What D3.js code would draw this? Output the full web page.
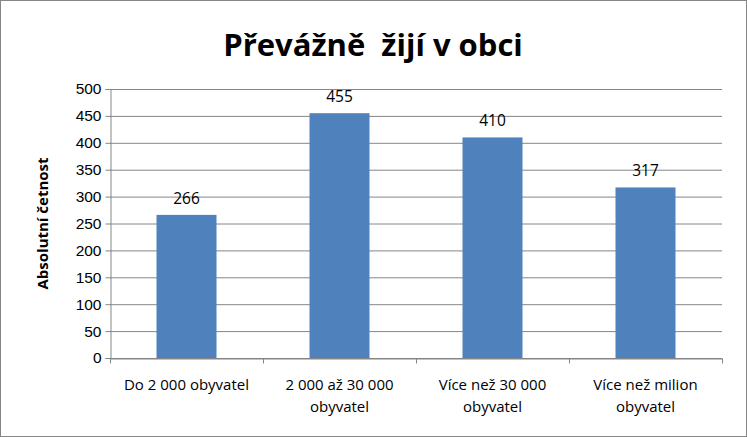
<!DOCTYPE html>
<html><head><meta charset="utf-8">
<script src="https://cdn.jsdelivr.net/npm/d3@7"></script>
<style>body{margin:0;background:#fff}svg{font-family:"Open Sans","Liberation Sans",sans-serif}</style>
</head><body><div id="chart"></div>
<script>
const categories = [["Do 2 000 obyvatel"], ["2 000 až 30 000", "obyvatel"], ["Více než 30 000", "obyvatel"], ["Více než milion", "obyvatel"]];
const values = [266, 455, 410, 317];
const yTicks = [0, 50, 100, 150, 200, 250, 300, 350, 400, 450, 500];

const width = 747, height = 437;
const margin = { top: 89, right: 25, bottom: 79, left: 110 };

const svg = d3.select('#chart').append('svg').attr('width', width).attr('height', height);
svg.append('rect').attr('x', 0.5).attr('y', 0.5).attr('width', width - 1).attr('height', height - 1)
    .attr('fill', '#fff').attr('stroke', '#868686');

const x = d3.scaleBand().domain(d3.range(values.length)).range([margin.left, width - margin.right]).paddingInner(0).paddingOuter(0);
const y = d3.scaleLinear().domain([0, 500]).range([height - margin.bottom, margin.top]);

// gridlines
svg.append('g').selectAll('line').data(yTicks).join('line')
    .attr('x1', margin.left).attr('x2', width - margin.right)
    .attr('y1', d => y(d) + 0.5).attr('y2', d => y(d) + 0.5)
    .attr('stroke', '#868686');

// bars
const bw = 60;
svg.append('g').selectAll('rect').data(values).join('rect')
    .attr('x', (d, i) => x(i) + x.bandwidth() / 2 - bw / 2)
    .attr('y', d => y(d)).attr('width', bw).attr('height', d => y(0) - y(d))
    .attr('fill', '#4f81bd');

svg.append('g').selectAll('text').data(values).join('text')
    .attr('x', (d, i) => x(i) + x.bandwidth() / 2).attr('y', d => y(d) - 11)
    .attr('text-anchor', 'middle').style('font-size', '15.5px').text(d => d);

// y axis
const yAxis = svg.append('g').attr('transform', `translate(${margin.left + 0.5},0)`)
    .call(d3.axisLeft(y).tickValues(yTicks).tickSize(5).tickPadding(4));
yAxis.selectAll('text').style('font-size', '15.5px').attr('fill', '#000').style('font-family', 'inherit');
yAxis.selectAll('line,path').attr('stroke', '#868686');

// x axis
const xAxis = svg.append('g').attr('transform', `translate(0,${y(0) + 0.5})`)
    .call(d3.axisBottom(x).tickSize(0).tickFormat(''));
xAxis.select('path').attr('stroke', '#868686');
xAxis.selectAll('.sep').data(d3.range(values.length + 1)).join('line').attr('class', 'sep')
    .attr('x1', i => margin.left + i * x.bandwidth() + 0.5).attr('x2', i => margin.left + i * x.bandwidth() + 0.5)
    .attr('y1', 0).attr('y2', 5).attr('stroke', '#868686');
svg.append('g').selectAll('text').data(categories).join('text')
    .attr('x', (d, i) => x(i) + x.bandwidth() / 2).attr('y', y(0) + 32)
    .attr('text-anchor', 'middle').style('font-size', '15px')
    .selectAll('tspan').data(d => d).join('tspan')
    .attr('x', function () { return this.parentNode.getAttribute('x'); })
    .attr('dy', (d, i) => i === 0 ? 0 : 22).text(d => d);

// title and y label
svg.append('text').attr('x', 373).attr('y', 56).attr('text-anchor', 'middle').attr('xml:space', 'preserve')
    .style('white-space', 'pre')
    .style('font-size', '31px').style('font-weight', 'bold').text('Převážně  žijí v obci');
svg.append('text').attr('transform', `translate(48,${(margin.top + y(0)) / 2}) rotate(-90)`)
    .attr('text-anchor', 'middle').style('font-size', '15px').style('font-weight', 'bold').text('Absolutní četnost');
</script></body></html>
